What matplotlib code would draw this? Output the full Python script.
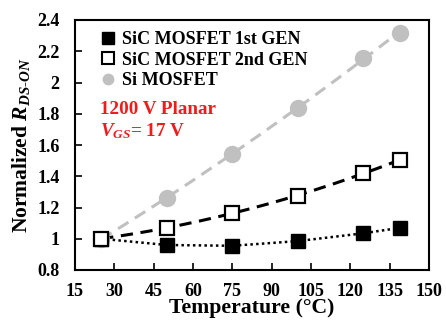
import numpy as np
import matplotlib
matplotlib.use("Agg")
import matplotlib.pyplot as plt
from matplotlib.lines import Line2D

plt.rcParams['font.family'] = ['Liberation Serif', 'DejaVu Serif']
plt.rcParams['font.weight'] = 'bold'
plt.rcParams['mathtext.fontset'] = 'custom'
plt.rcParams['mathtext.rm'] = 'Liberation Serif:bold'
plt.rcParams['mathtext.it'] = 'Liberation Serif:italic:bold'
plt.rcParams['mathtext.bf'] = 'Liberation Serif:bold'

temps = [25, 50, 75, 100, 125, 139]
sic_gen1 = [1.00, 0.96, 0.955, 0.985, 1.035, 1.07]
sic_gen2 = [1.00, 1.07, 1.165, 1.275, 1.42, 1.505]
si_mosfet = [1.00, 1.26, 1.54, 1.84, 2.16, 2.32]

series_labels = ['SiC MOSFET 1st GEN', 'SiC MOSFET 2nd GEN', 'Si MOSFET']
x_ticks = [15, 30, 45, 60, 75, 90, 105, 120, 135, 150]
y_ticks = [0.8, 1.0, 1.2, 1.4, 1.6, 1.8, 2.0, 2.2, 2.4]
y_tick_labels = ['0.8', '1', '1.2', '1.4', '1.6', '1.8', '2', '2.2', '2.4']

fig = plt.figure(figsize=(4.46, 3.2), dpi=100)
ax = fig.add_axes([75 / 446, 50 / 320, 354 / 446, 250 / 320])

t = np.array(temps, dtype=float)
tt = np.linspace(t.min(), t.max(), 200)

# trend curves through each series
fit_si = np.poly1d(np.polyfit(t, si_mosfet, 2))
fit_g2 = np.poly1d(np.polyfit(t, sic_gen2, 2))
ax.plot(tt, fit_si(tt), color='#c0c0c0', lw=2.2, dashes=(4, 2.5), zorder=1)
ax.plot(tt, fit_g2(tt), color='black', lw=2.2, dashes=(4, 2.5), zorder=2)
ax.plot(t, sic_gen1, color='black', lw=1.8, linestyle=(0, (1, 1.3)), zorder=2)

ax.plot(t, sic_gen1, 's', color='black', ms=10, zorder=4)
ax.plot(t, sic_gen2, 's', mfc='white', mec='black', mew=1.6, ms=10, zorder=4)
ax.plot(t, si_mosfet, 'o', color='#c0c0c0', ms=11.5, zorder=3)

ax.set_xlim(15, 150)
ax.set_ylim(0.8, 2.4)
ax.set_xticks(x_ticks)
ax.set_yticks(y_ticks)
ax.set_yticklabels(y_tick_labels)
ax.tick_params(direction='in', length=5, width=1.2, labelsize=13)
ax.tick_params(axis='x', pad=9)
ax.tick_params(axis='y', pad=11)
for s in ax.spines.values():
    s.set_linewidth(1.5)

ax.set_xlabel('Temperature (°C)', fontsize=15.7, fontweight='bold', labelpad=-1)
ax.set_ylabel(r'Normalized $R_{DS\text{-}ON}$', fontsize=15.5, fontweight='bold',
              labelpad=4)

# legend handles: filled square, open square, small grey dot
handles = [
    Line2D([], [], marker='s', ls='none', color='black', ms=8.5),
    Line2D([], [], marker='s', ls='none', mfc='white', mec='black', mew=1.5, ms=8.5),
    Line2D([], [], marker='o', ls='none', color='#c0c0c0', ms=7.5),
]
ax.legend(handles, series_labels, loc='upper left', frameon=False, fontsize=13,
          handlelength=0.7, handletextpad=0.45, borderaxespad=0.0,
          labelspacing=0.2, bbox_to_anchor=(0.054, 0.985))

ax.text(0.072, 0.622, '1200 V Planar', transform=ax.transAxes, color='#f01c1c',
        fontsize=13.8, fontweight='bold')
ax.text(0.072, 0.535, r'$V_{GS}$= 17 V', transform=ax.transAxes, color='#f01c1c',
        fontsize=13.8)

fig.savefig('out.png', dpi=100)
